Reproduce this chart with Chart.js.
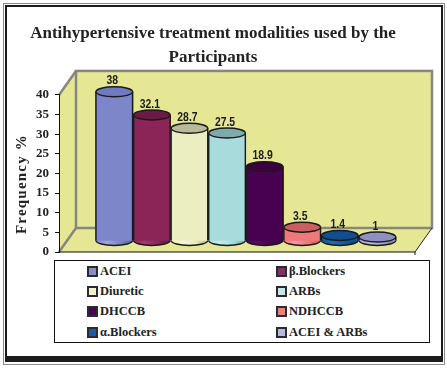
<!DOCTYPE html>
<html>
<head>
<meta charset="utf-8">
<script src="https://cdn.jsdelivr.net/npm/chart.js@4"></script>
<style>
    html, body { margin: 0; padding: 0; background: #fff; }
    #wrap { position: relative; width: 447px; height: 370px; overflow: hidden; }
    #legend { position: absolute; left: 54px; top: 260px; width: 374px; height: 81px; border: 1px solid #111; background: #fff; }
    .item { position: absolute; font: bold 12.5px "Liberation Serif", serif; color: #222; line-height: 14px; white-space: nowrap; }
    .swatch { position: absolute; width: 7px; height: 7px; border: 2px solid #2a2a35; }
</style>
</head>
<body>
<div id="wrap">
    <canvas id="myChart" width="447" height="370"></canvas>
    <div id="legend"></div>
</div>
<script>
var categories = ['ACEI', '\u03B2.Blockers', 'Diuretic', 'ARBs', 'DHCCB', 'NDHCCB', '\u03B1.Blockers', 'ACEI & ARBs'];
var values = [38, 32.1, 28.7, 27.5, 18.9, 3.5, 1.4, 1];
var yTicks = [0, 5, 10, 15, 20, 25, 30, 35, 40];

var sideLight = ['#9ea6dc', '#a33a6e', '#f6f6d2', '#c4eeee', '#5a0a60', '#f59a9a', '#1f6cb4', '#bcbce2'];
var sideMid = ['#7c86c8', '#8b2558', '#ecedc0', '#a8dcdc', '#480050', '#ec7a7c', '#135a9c', '#a2a2d0'];
var sideDark = ['#565f9e', '#5f1a40', '#b4b48c', '#7aa8ac', '#33003a', '#c05c5e', '#0c4278', '#7c7caa'];
var topColors = ['#6f7ac0', '#6b1a45', '#b9ba9a', '#7fa9ad', '#3a0040', '#c9605f', '#0f4f8f', '#9090c0'];
var swatchColors = ['#8a8dc0', '#8b2d5e', '#f2f2c8', '#c6e8e4', '#4e0050', '#f07f78', '#1d5a9e', '#b8b8dc'];

//the bars stand on the floor of the box, not on the front edge of it
var floorLift = 11;
var capHeight = 5;

//gradient across one cylinder
function sideGradient(ctx, left, right, i) {
    var g = ctx.createLinearGradient(left, 0, right, 0);
    g.addColorStop(0, sideMid[i]);
    g.addColorStop(0.3, sideLight[i]);
    g.addColorStop(0.65, sideMid[i]);
    g.addColorStop(1, sideDark[i]);
    return g;
}

function polygon(ctx, pts, fill) {
    ctx.beginPath();
    ctx.moveTo(pts[0][0], pts[0][1]);
    for (var i = 1; i < pts.length; i++) {
        ctx.lineTo(pts[i][0], pts[i][1]);
    }
    ctx.closePath();
    ctx.fillStyle = fill;
    ctx.fill();
}

function line(ctx, x1, y1, x2, y2, color, width) {
    ctx.beginPath();
    ctx.moveTo(x1, y1);
    ctx.lineTo(x2, y2);
    ctx.strokeStyle = color;
    ctx.lineWidth = width;
    ctx.stroke();
}

//page frame and the walls of the 3D box
var boxPlugin = {
    id: 'box',
    beforeDraw: function(chart) {
        var ctx = chart.ctx;
        var area = chart.chartArea;
        var dx = 17, dy = 24;
        var wall = '#e5e795', edge = '#87877f';

        ctx.save();
        ctx.strokeStyle = '#8a8a8a';
        ctx.lineWidth = 1;
        ctx.strokeRect(3.5, 3.5, 441, 361);
        ctx.strokeStyle = '#1c1c1c';
        ctx.lineWidth = 2;
        ctx.strokeRect(6, 6, 436, 353);
        line(ctx, 5, 359, 443, 359, '#1c1c1c', 6);

        polygon(ctx, [[area.left, area.top], [area.left + dx, area.top - dy], [area.right + dx, area.top - dy], [area.right + dx, area.bottom - dy], [area.right, area.bottom], [area.left, area.bottom]], wall);

        line(ctx, area.left, area.top, area.left + dx, area.top - dy, edge, 2.5);
        line(ctx, area.left, area.bottom, area.left + dx, area.bottom - dy, edge, 2.5);
        ctx.strokeStyle = edge;
        ctx.lineWidth = 2.5;
        ctx.strokeRect(area.left + dx, area.top - dy, area.right - area.left, area.bottom - area.top);
        line(ctx, area.right, area.bottom, area.right + dx, area.bottom - dy, '#222', 1);
        line(ctx, area.left, area.bottom, area.right, area.bottom, '#111', 1.2);
        line(ctx, area.right, area.bottom, area.right, area.bottom + 3, '#111', 1);

        //axis title sits lower than the middle of the axis in the original
        ctx.translate(22, 184);
        ctx.rotate(-Math.PI / 2);
        ctx.fillStyle = '#222';
        ctx.font = 'bold 15px "Liberation Serif", serif';
        ctx.letterSpacing = '1.2px';
        ctx.textAlign = 'center';
        ctx.textBaseline = 'middle';
        ctx.fillText('Frequency %', 0, 0);
        ctx.restore();
    }
};

//turns the flat bars of the library into cylinders
var cylinderPlugin = {
    id: 'cylinder',
    beforeDatasetsDraw: function(chart) {
        var ctx = chart.ctx;
        ctx.save();
        ctx.translate(0, -floorLift);
        chart.getDatasetMeta(0).data.forEach(function(bar, i) {
            var half = bar.width / 2;
            ctx.beginPath();
            ctx.ellipse(bar.x, bar.base, half - 0.5, capHeight, 0, 0, Math.PI * 2);
            ctx.fillStyle = sideGradient(ctx, bar.x - half, bar.x + half, i);
            ctx.fill();
            ctx.strokeStyle = '#1a1a1a';
            ctx.lineWidth = 1.4;
            ctx.stroke();
        });
    },
    afterDatasetsDraw: function(chart) {
        var ctx = chart.ctx;
        chart.getDatasetMeta(0).data.forEach(function(bar, i) {
            var half = bar.width / 2;
            line(ctx, bar.x - half + 0.5, bar.y, bar.x - half + 0.5, bar.base, '#1a1a1a', 1.4);
            line(ctx, bar.x + half - 0.5, bar.y, bar.x + half - 0.5, bar.base, '#1a1a1a', 1.4);
            ctx.beginPath();
            ctx.ellipse(bar.x, bar.y, half - 0.5, capHeight, 0, 0, Math.PI * 2);
            ctx.fillStyle = topColors[i];
            ctx.fill();
            ctx.strokeStyle = '#1a1a1a';
            ctx.lineWidth = 1.4;
            ctx.stroke();

            //value label, squeezed because the original uses a narrow face
            ctx.save();
            ctx.translate(bar.x - 2, bar.y - 11);
            ctx.scale(0.8, 1);
            ctx.fillStyle = '#1c1c1c';
            ctx.font = 'bold 13px "Liberation Sans", sans-serif';
            ctx.textAlign = 'center';
            ctx.textBaseline = 'middle';
            ctx.fillText(String(values[i]), 0, 0);
            ctx.restore();
        });
        ctx.restore();
    }
};

Chart.defaults.animation = false;

var ctx = document.getElementById('myChart');
var myChart = new Chart(ctx, {
    type: 'bar',
    data: {
        labels: categories,
        datasets: [{
            data: values.map(function(v, i) { return { x: i, y: v }; }),
            borderWidth: 0,
            barThickness: 37.6,
            backgroundColor: function(context) {
                var el = context.element;
                if (!el || el.width === undefined) {
                    return sideMid[context.dataIndex];
                }
                return sideGradient(context.chart.ctx, el.x - el.width / 2, el.x + el.width / 2, context.dataIndex);
            }
        }]
    },
    options: {
        responsive: false,
        layout: { padding: { left: 11, right: 32, top: 22, bottom: 118 } },
        plugins: {
            legend: { display: false },
            tooltip: { enabled: false },
            title: {
                display: true,
                text: ['Antihypertensive treatment modalities used by the', 'Participants'],
                color: '#222',
                font: { family: '"Liberation Serif", serif', size: 17, weight: 'bold', lineHeight: 1.41 },
                padding: { top: 0, bottom: 25 }
            }
        },
        scales: {
            x: {
                type: 'linear',
                display: false,
                offset: false,
                min: -1.47,
                max: 8
            },
            y: {
                min: 0,
                max: 40,
                afterFit: function(scale) { scale.width = 48; },
                afterBuildTicks: function(scale) {
                    scale.ticks = yTicks.map(function(t) { return { value: t }; });
                },
                grid: { drawOnChartArea: false, color: '#111', tickLength: 4 },
                border: { color: '#111', width: 1 },
                ticks: {
                    color: '#222',
                    padding: 6,
                    font: { family: '"Liberation Serif", serif', size: 13, weight: 'bold' }
                }
            }
        }
    },
    plugins: [boxPlugin, cylinderPlugin]
});

//legend box, filled row by row like the original
var legendDiv = document.getElementById('legend');
var rowTops = [3, 23, 43, 64];
categories.forEach(function(name, i) {
    var col = i % 2;
    var row = Math.floor(i / 2);
    var swatch = document.createElement('div');
    swatch.className = 'swatch';
    swatch.style.left = (col === 0 ? 32 : 221) + 'px';
    swatch.style.top = (rowTops[row] + 2) + 'px';
    swatch.style.background = swatchColors[i];
    legendDiv.appendChild(swatch);
    var item = document.createElement('div');
    item.className = 'item';
    item.style.left = (col === 0 ? 45 : 234) + 'px';
    item.style.top = rowTops[row] + 'px';
    item.textContent = name;
    legendDiv.appendChild(item);
});
</script>
</body>
</html>
